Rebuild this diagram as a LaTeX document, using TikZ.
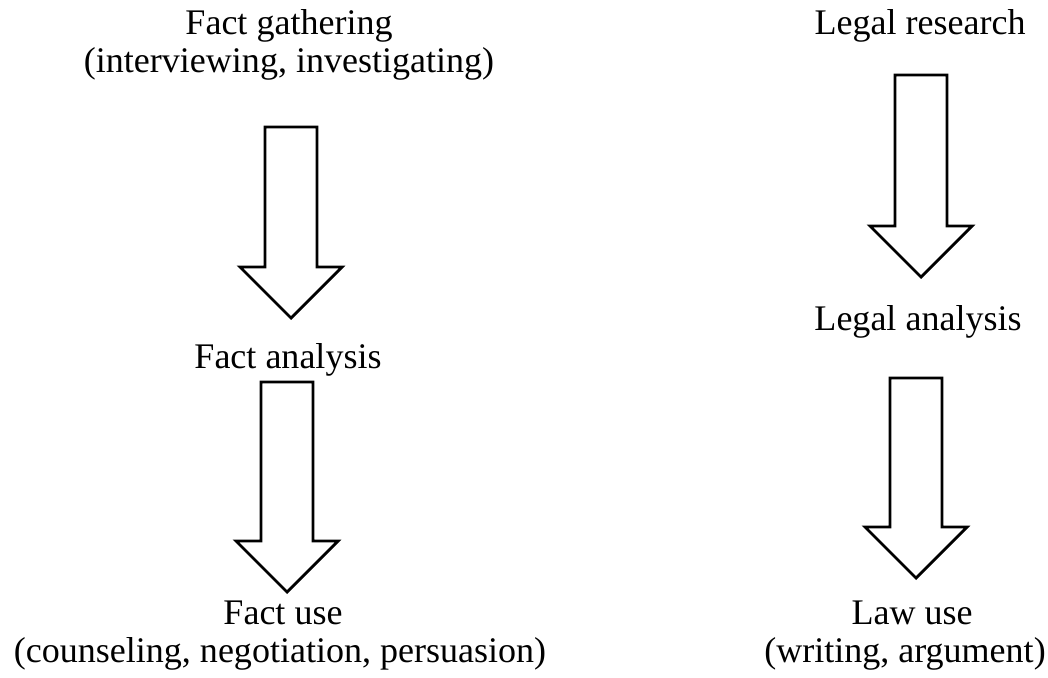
\documentclass[tikz,border=0pt]{standalone}
\usepackage{fontspec}
\setmainfont{Liberation Serif}
\newcommand{\fatarrow}[3]{\draw[blk] (#1-26,#2) -- (#1-26,#3-51) -- (#1-51,#3-51) -- (#1,#3) -- (#1+51,#3-51) -- (#1+26,#3-51) -- (#1+26,#2) -- cycle;}
\begin{document}
\begin{tikzpicture}[x=0.02cm,y=-0.02cm,
	lbl/.style={font=\fontsize{20.5}{24}\selectfont, inner sep=0pt, anchor=base},
	blk/.style={draw, line width=1.6pt, line join=miter}]
	\useasboundingbox (0,0) rectangle (1048,677);
	
	% left column: facts
	\node[lbl] (gather) at (289,34) {Fact gathering};
	\node[lbl] (gathersub) at (289,72) {(interviewing, investigating)};
	\node[lbl] (fanalysis) at (288,368) {Fact analysis};
	\node[lbl] (fuse) at (283,624) {Fact use};
	\node[lbl] (fusesub) at (280,662) {(counseling, negotiation, persuasion)};
	
	% right column: law
	\node[lbl] (research) at (920,34) {Legal research};
	\node[lbl] (lanalysis) at (918,330) {Legal analysis};
	\node[lbl] (luse) at (912,624) {Law use};
	\node[lbl] (lusesub) at (905,662) {(writing, argument)};
	
	% block arrows
	\fatarrow{291}{127}{318}
	\fatarrow{287}{382}{592}
	\fatarrow{921}{75}{277}
	\fatarrow{916}{378}{578}
\end{tikzpicture}
\end{document}
